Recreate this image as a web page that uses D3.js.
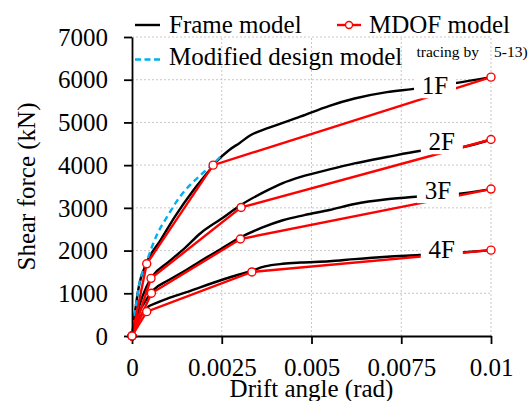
<!DOCTYPE html>
<html>
<head>
<meta charset="utf-8">
<script src="https://cdn.jsdelivr.net/npm/d3@7"></script>
<style>
  html, body { margin: 0; padding: 0; background: #fff; }
  svg { display: block; }
  text { font-family: "Liberation Serif", "Times New Roman", serif; fill: #000; }
</style>
</head>
<body>
<svg id="chart" width="531" height="401"></svg>
<script>
// Storey shear force vs. drift angle, frame model vs. MDOF model
const floors = ["1F", "2F", "3F", "4F"];

const xTicks = [0, 0.0025, 0.005, 0.0075, 0.01];
const xTickLabels = ["0", "0.0025", "0.005", "0.0075", "0.01"];
const yTicks = [0, 1000, 2000, 3000, 4000, 5000, 6000, 7000];

// Frame model (black curves), [drift angle, shear force kN]
const frame1F = [[0,0],[0.0002,1200],[0.0004,1700],[0.0008,2250],[0.0012,2800],[0.0017,3400],[0.0021,3820],[0.00235,4080],[0.0027,4350],[0.003,4520],[0.0033,4700],[0.0038,4870],[0.0047,5140],[0.0055,5390],[0.0062,5560],[0.0071,5710],[0.0078,5780],[0.009,5920],[0.01,6060]];
const frame2F = [[0,0],[0.0002,700],[0.0004,1150],[0.0006,1430],[0.001,1720],[0.0015,2080],[0.0019,2400],[0.0025,2750],[0.003,3050],[0.0037,3380],[0.0042,3580],[0.0047,3725],[0.0055,3900],[0.0062,4040],[0.0071,4190],[0.008,4330],[0.0092,4420],[0.01,4600]];
const frame3F = [[0,0],[0.0002,550],[0.0004,850],[0.0006,1080],[0.001,1300],[0.0015,1540],[0.0019,1750],[0.0025,2050],[0.003,2300],[0.0036,2530],[0.0042,2710],[0.0048,2830],[0.0055,2950],[0.0062,3090],[0.0071,3200],[0.0079,3260],[0.009,3320],[0.01,3440]];
const frame4F = [[0,0],[0.0002,400],[0.0004,650],[0.0007,780],[0.001,880],[0.0015,1020],[0.0019,1140],[0.0026,1340],[0.0033,1520],[0.0037,1630],[0.0042,1690],[0.0047,1720],[0.0055,1750],[0.0062,1800],[0.0071,1855],[0.008,1895],[0.0091,1950],[0.01,2010]];

// MDOF model (red tri-linear skeletons)
const mdof1F = [[0,0],[0.00041,1690],[0.00226,4000],[0.01,6060]];
const mdof2F = [[0,0],[0.00053,1350],[0.00304,3010],[0.01,4600]];
const mdof3F = [[0,0],[0.00054,1000],[0.00302,2270],[0.01,3440]];
const mdof4F = [[0,0],[0.00041,570],[0.00334,1500],[0.01,2010]];

// Modified design model (blue dashed)
const modifiedDesign = [[0,0],[0.0001,650],[0.0002,1200],[0.0004,1720],[0.0007,2380],[0.001,2820],[0.0013,3220],[0.0016,3520],[0.0019,3760],[0.0022,3980],[0.0025,4230]];

const frameSeries = [frame1F, frame2F, frame3F, frame4F];
const mdofSeries = [mdof1F, mdof2F, mdof3F, mdof4F];

const W = 531, H = 401;
const margin = { top: 37, right: 40, bottom: 65, left: 132 };
const svg = d3.select("#chart");

const x = d3.scaleLinear().domain([0, 0.01]).range([margin.left, W - margin.right]);
const y = d3.scaleLinear().domain([0, 7000]).range([H - margin.bottom, margin.top]);

const RED = "#ff0000", BLUE = "#00b0f0", GRID = "#c8c8c8";

// dotted gridlines
const grid = svg.append("g");
grid.selectAll("line.h").data(yTicks.slice(1)).join("line")
  .attr("x1", x(0)).attr("x2", x(0.01))
  .attr("y1", d => y(d)).attr("y2", d => y(d))
  .attr("stroke", GRID).attr("stroke-width", 1).attr("stroke-dasharray", "2,2");
grid.selectAll("line.v").data(xTicks.slice(1)).join("line")
  .attr("x1", d => x(d)).attr("x2", d => x(d))
  .attr("y1", y(0)).attr("y2", y(7000))
  .attr("stroke", GRID).attr("stroke-width", 1).attr("stroke-dasharray", "2,2");

const line = d3.line().x(d => x(d[0])).y(d => y(d[1]));
const smooth = d3.line().x(d => x(d[0])).y(d => y(d[1])).curve(d3.curveMonotoneX);

// frame model curves
svg.append("g").selectAll("path").data(frameSeries).join("path")
  .attr("d", smooth).attr("fill", "none").attr("stroke", "#000").attr("stroke-width", 2.4);

// modified design model
svg.append("path").datum(modifiedDesign).attr("d", smooth)
  .attr("fill", "none").attr("stroke", BLUE).attr("stroke-width", 2.4)
  .attr("stroke-dasharray", "6,4");

// MDOF skeletons
svg.append("g").selectAll("path").data(mdofSeries).join("path")
  .attr("d", line).attr("fill", "none").attr("stroke", RED).attr("stroke-width", 2.4);

svg.append("g").selectAll("circle").data(mdofSeries.flat()).join("circle")
  .attr("cx", d => x(d[0])).attr("cy", d => y(d[1])).attr("r", 4)
  .attr("fill", "#fff").attr("stroke", RED).attr("stroke-width", 1.4);

// floor labels on white boxes
const labelAt = { "1F": [0.00844, 5870], "2F": [0.00863, 4560], "3F": [0.00852, 3415], "4F": [0.00863, 2035] };
const lab = svg.append("g").selectAll("g").data(floors).join("g")
  .attr("transform", d => `translate(${x(labelAt[d][0])},${y(labelAt[d][1])})`);
lab.append("rect").attr("x", -21).attr("y", -14).attr("width", 42).attr("height", 27).attr("fill", "#fff");
lab.append("text").text(d => d).attr("text-anchor", "middle").attr("dy", "0.34em")
  .style("font-size", "25px");

// axes
const xAxis = d3.axisBottom(x).tickValues(xTicks).tickFormat((d, i) => xTickLabels[i])
  .tickSize(8).tickSizeOuter(0).tickPadding(14);
const yAxis = d3.axisLeft(y).tickValues(yTicks).tickFormat(d3.format("d"))
  .tickSize(8).tickSizeOuter(0).tickPadding(16);

const gx = svg.append("g").attr("transform", `translate(0,${y(0)})`).call(xAxis);
const gy = svg.append("g").attr("transform", `translate(${x(0)},0)`).call(yAxis);
[gx, gy].forEach(g => {
  g.select(".domain").attr("stroke", "#000").attr("stroke-width", 1.8);
  g.selectAll(".tick line").attr("stroke", "#000").attr("stroke-width", 1.8);
  g.selectAll(".tick text").style("font-size", "25px").style("font-family", "'Liberation Serif', 'Times New Roman', serif").attr("fill", "#000");
});
gy.selectAll(".tick text").attr("dy", "0.33em");

// re-draw origin marker above the axes
svg.append("circle").attr("cx", x(0)).attr("cy", y(0)).attr("r", 4)
  .attr("fill", "#fff").attr("stroke", RED).attr("stroke-width", 1.4);

// axis titles
svg.append("text").attr("x", (x(0) + x(0.01)) / 2).attr("y", 397)
  .attr("text-anchor", "middle").style("font-size", "25px").text("Drift angle (rad)");
svg.append("text").attr("transform", `translate(35,${(y(0) + y(7000)) / 2}) rotate(-90)`)
  .attr("text-anchor", "middle").style("font-size", "25px").text("Shear force (kN)");

// legend
const lg = svg.append("g");
lg.append("line").attr("x1", 135).attr("x2", 160).attr("y1", 25).attr("y2", 25)
  .attr("stroke", "#000").attr("stroke-width", 2.4);
lg.append("text").attr("x", 169).attr("y", 33).style("font-size", "25px").text("Frame model");
lg.append("line").attr("x1", 337).attr("x2", 361).attr("y1", 25).attr("y2", 25)
  .attr("stroke", RED).attr("stroke-width", 2.4);
lg.append("circle").attr("cx", 349).attr("cy", 25).attr("r", 3.5)
  .attr("fill", "#fff").attr("stroke", RED).attr("stroke-width", 1.4);
lg.append("text").attr("x", 369).attr("y", 33).style("font-size", "25px").text("MDOF model");
lg.append("line").attr("x1", 135).attr("x2", 160).attr("y1", 59.5).attr("y2", 59.5)
  .attr("stroke", BLUE).attr("stroke-width", 2.4).attr("stroke-dasharray", "6,3.5");
lg.append("text").attr("x", 169).attr("y", 65).style("font-size", "25px").text("Modified design model");

lg.append("text").attr("x", 416.5).attr("y", 56.5).style("font-size", "15.5px").text("tracing by");
lg.append("text").attr("x", 494).attr("y", 56.5).style("font-size", "15.5px").text("5-13)");
</script>
</body>
</html>
